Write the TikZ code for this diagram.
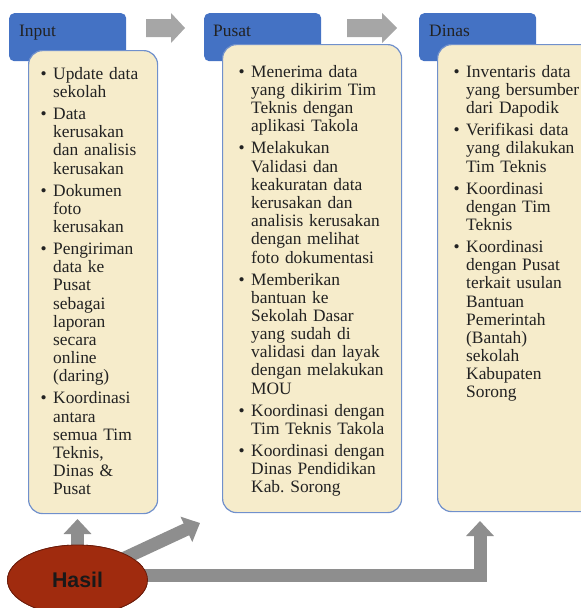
\documentclass[tikz,border=0pt]{standalone}
\usepackage{fontspec}
\setmainfont{Liberation Serif}
\newfontfamily\hasilfont{Liberation Sans}
\usetikzlibrary{arrows.meta, shapes.geometric}

\definecolor{headblue}{HTML}{4472C4}
\definecolor{edgeblue}{HTML}{7090CC}
\definecolor{bodycream}{HTML}{F6ECCB}
\definecolor{arrowgray}{HTML}{A6A6A6}
\definecolor{bigarrowgray}{HTML}{8E8E8E}
\definecolor{hasilred}{HTML}{A02B0E}
\definecolor{hasiledge}{HTML}{6B1C0A}
\definecolor{txtdark}{HTML}{222222}

% one bullet item, manual line breaks with \\
\newcommand{\butir}[1]{\par\hangindent=12.5pt\hangafter=1\noindent\makebox[12.5pt][l]{\textbullet}{\let\\\newline #1}\par}

\begin{document}
\begin{tikzpicture}[x=1pt, y=-1pt,
	headbox/.style={fill=headblue, rounded corners=5pt, anchor=north west,
		minimum width=117pt, minimum height=48pt, inner sep=0pt},
	headtext/.style={anchor=base west, inner sep=0pt, text=txtdark,
		font=\fontsize{17.4}{18.2}\selectfont},
	bodybox/.style={draw=edgeblue, fill=bodycream, line width=1.2pt,
		rounded corners=14pt, anchor=north west, inner sep=0pt},
	listtext/.style={anchor=north west, inner sep=0pt, text width=170pt, text=txtdark,
		font=\fontsize{17.4}{18.2}\selectfont,
		execute at begin node={\setlength{\parskip}{3.8pt}}},
	bigarrow/.style={line width=13pt, draw=bigarrowgray, -{Triangle[length=15pt, width=27pt]}},
	bigedge/.style={line width=17pt, draw=white, shorten >=-2.5pt, -{Triangle[length=18pt, width=33pt]}}]
	
	\clip (0,0) rectangle (581,608);
	
	% headers
	\node[headbox] (inHead) at (9,13) {};
	\node[headbox] (puHead) at (204,13) {};
	\node[headbox] (dnHead) at (419,13) {};
	\node[headtext] (inTitle) at (19,36) {Input};
	\node[headtext] (puTitle) at (213,36) {Pusat};
	\node[headtext] (dnTitle) at (429,36) {Dinas};
	
	% bodies
	\node[bodybox, minimum width=129pt, minimum height=463pt] (inBody) at (28,50) {};
	\node[bodybox, minimum width=179pt, minimum height=468pt] (puBody) at (222,44) {};
	\node[bodybox, minimum width=160pt, minimum height=467pt] (dnBody) at (437,44) {};
	
	\node[listtext] (inList) at (40.5,57) {%
		\butir{Update data\\sekolah}
		\butir{Data\\kerusakan\\dan analisis\\kerusakan}
		\butir{Dokumen\\foto\\kerusakan}
		\butir{Pengiriman\\data ke\\Pusat\\sebagai\\laporan\\secara\\online\\(daring)}
		\butir{Koordinasi\\antara\\semua Tim\\Teknis,\\Dinas \&\\Pusat}};
	
	\node[listtext] (puList) at (238.5,55) {%
		\butir{Menerima data\\yang dikirim Tim\\Teknis dengan\\aplikasi Takola}
		\butir{Melakukan\\Validasi dan\\keakuratan data\\kerusakan dan\\analisis kerusakan\\dengan melihat\\foto dokumentasi}
		\butir{Memberikan\\bantuan ke\\Sekolah Dasar\\yang sudah di\\validasi dan layak\\dengan melakukan\\MOU}
		\butir{Koordinasi dengan\\Tim Teknis Takola}
		\butir{Koordinasi dengan\\Dinas Pendidikan\\Kab.\ Sorong}};
	
	\node[listtext] (dnList) at (453.5,55) {%
		\butir{Inventaris data\\yang bersumber\\dari Dapodik}
		\butir{Verifikasi data\\yang dilakukan\\Tim Teknis}
		\butir{Koordinasi\\dengan Tim\\Teknis}
		\butir{Koordinasi\\dengan Pusat\\terkait usulan\\Bantuan\\Pemerintah\\(Bantah)\\sekolah\\Kabupaten\\Sorong}};
	
	% arrows between headers
	\fill[arrowgray] (146,19) -- (171,19) -- (171,13) -- (185,28) -- (171,43) -- (171,37) -- (146,37) -- cycle;
	\fill[arrowgray] (347,19) -- (382,19) -- (382,13) -- (397,28) -- (382,43) -- (382,37) -- (347,37) -- cycle;
	
	% Hasil and its arrows
	\node[ellipse, minimum width=140pt, minimum height=70pt, inner sep=0pt,
		fill=hasilred, draw=hasiledge, line width=0.8pt] (hasil) at (77.5,580) {};
	\coordinate (inIn) at (77.5,519);
	\coordinate (puIn) at (200,523);
	\coordinate (dnIn) at (480,521);
	
	\draw[bigedge] ([yshift=4.5pt]hasil.center) -| (dnIn);
	\draw[bigarrow] ([yshift=4.5pt]hasil.center) -| (dnIn);
	\draw[bigedge] (hasil.center) -- (puIn);
	\draw[bigarrow] (hasil.center) -- (puIn);
	\draw[bigedge] (hasil.center) -- (inIn);
	\draw[bigarrow] (hasil.center) -- (inIn);
	
	\node[ellipse, minimum width=140pt, minimum height=70pt, inner sep=0pt,
		fill=hasilred, draw=hasiledge, line width=0.8pt,
		font=\hasilfont\bfseries\fontsize{21.3}{24}\selectfont, text=black!90] (hasilTop) at (hasil) {Hasil};
	
\end{tikzpicture}
\end{document}
